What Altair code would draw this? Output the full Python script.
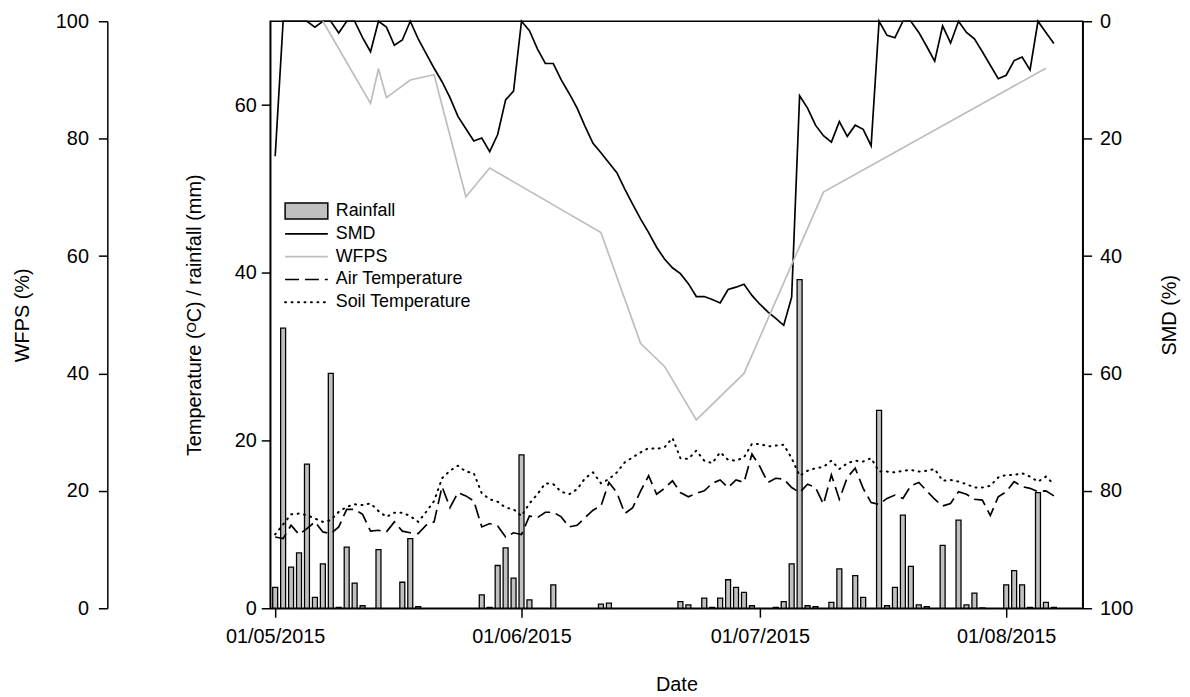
import altair as alt
import pandas as pd

# ---------------- data ----------------
start_date = "2015-05-01"

# daily rainfall (mm), day 0 = 01/05/2015
rain = [2.5, 33.4, 4.9, 6.6, 17.2, 1.3, 5.3, 28.0, 0.1, 7.3,
        3.0, 0.3, 0, 7.0, 0, 0, 3.1, 8.3, 0.2, 0,
        0, 0, 0, 0, 0, 0, 1.6, 0.1, 5.1, 7.2,
        3.6, 18.3, 1.0, 0, 0, 2.8, 0, 0, 0, 0,
        0, 0.5, 0.6, 0, 0, 0, 0, 0, 0, 0,
        0, 0.8, 0.4, 0, 1.2, 0.1, 1.2, 3.4, 2.5, 1.9,
        0.3, 0, 0, 0.1, 0.8, 5.3, 39.2, 0.3, 0.2, 0,
        0.7, 4.7, 0, 3.9, 1.3, 0, 23.6, 0.3, 2.5, 11.1,
        5.0, 0.4, 0.2, 0, 7.5, 0, 10.5, 0.4, 1.8, 0.05,
        0, 0, 2.8, 4.5, 2.8, 0.1, 13.8, 0.7, 0.1]

# soil moisture deficit (%)
smd = [23, 0, 0, 0, 0, 1.0, 0, 0, 2.0, 0,
       0, 2.8, 5.2, 0, 1.0, 4.1, 3.2, 0, 3.0, 5.5,
       8.0, 10.3, 13.0, 16.2, 18.3, 20.4, 19.9, 22.2, 19.3, 13.4,
       11.9, 0, 1.6, 4.7, 7.2, 7.2, 10.0, 12.3, 14.8, 17.9,
       20.8, 22.4, 24.1, 25.8, 28.6, 31.2, 33.7, 36.0, 38.5, 40.5,
       42.0, 43.0, 44.7, 46.9, 46.9, 47.4, 48.0, 45.7, 45.3, 44.8,
       46.7, 48.2, 49.5, 50.6, 51.8, 47.0, 12.7, 14.8, 17.7, 19.5,
       20.6, 17.1, 19.6, 17.7, 18.4, 21.2, 0, 2.4, 2.8, 0,
       0, 1.9, 4.3, 6.8, 0.8, 3.7, 0, 1.9, 3.0, 5.2,
       7.5, 9.8, 9.2, 6.7, 6.1, 8.3, 0, 1.9, 3.8]

# air temperature (deg C)
air = [8.5, 8.3, 9.9, 8.8, 9.5, 10.3, 9.1, 8.9, 9.7, 11.8,
       11.8, 11.2, 9.2, 9.3, 9.1, 10.3, 9.2, 9.0, 8.9, 9.9,
       10.3, 14.5, 12.0, 13.8, 13.4, 12.8, 9.7, 10.1, 9.8, 8.5,
       9.0, 8.8, 11.0, 10.8, 11.45, 11.45, 10.9, 9.7, 9.9, 10.8,
       11.7, 12.2, 15.0, 13.8, 11.3, 12.0, 14.0, 15.8, 13.6, 14.3,
       15.2, 13.8, 13.3, 13.7, 14.0, 14.9, 15.3, 14.4, 15.3, 15.0,
       18.4, 16.9, 15.0, 15.5, 15.4, 14.4, 13.8, 14.8, 14.4, 12.4,
       15.9, 13.0, 15.6, 16.7, 14.3, 12.6, 12.4, 13.1, 13.5, 13.1,
       14.6, 15.0, 14.0, 13.0, 12.2, 12.5, 13.9, 13.6, 13.0, 12.9,
       11.05, 13.3, 13.9, 15.1, 14.5, 14.3, 13.9, 14.0, 13.4]

# soil temperature (deg C)
soil = [8.8, 10.0, 11.2, 11.3, 11.1, 10.7, 10.3, 10.5, 11.5, 12.1,
        12.4, 12.3, 12.5, 11.6, 10.9, 11.4, 11.4, 11.0, 10.3, 11.5,
        12.8, 15.5, 16.4, 17.0, 16.3, 16.1, 13.7, 13.0, 12.7, 12.0,
        11.8, 11.0, 12.5, 13.6, 14.9, 14.8, 13.9, 13.6, 14.2, 15.5,
        16.2, 14.9, 15.4, 16.2, 17.4, 18.0, 18.6, 19.1, 19.0, 19.2,
        20.3, 17.9, 17.8, 18.8, 17.6, 17.3, 18.6, 17.7, 17.6, 18.0,
        19.6, 19.6, 19.3, 19.4, 19.5, 17.9, 15.8, 16.4, 16.7, 16.85,
        17.6, 16.6, 17.3, 17.6, 17.5, 17.9, 16.3, 16.3, 16.2, 16.4,
        16.5, 16.3, 16.4, 16.6, 15.2, 15.3, 15.1, 14.8, 14.4, 14.4,
        14.6, 15.6, 15.9, 15.9, 16.1, 15.7, 15.1, 15.7, 14.8]

# water filled pore space (%), sparse sampling days
wfps_day = [6, 12, 13, 14, 17, 20, 24, 27, 41, 46, 49, 53, 59, 69, 97]
wfps_val = [100, 86.0, 91.9, 87.0, 90.0, 90.9, 70.1, 75.0, 64.0, 45.1,
            41.2, 32.1, 40.0, 70.9, 92.0]

temp_ticks = [0, 20, 40, 60]
pct_ticks = [0, 20, 40, 60, 80, 100]
legend_labels = ["Rainfall", "SMD", "WFPS", "Air Temperature", "Soil Temperature"]

# ---------------- tables ----------------
t0 = pd.Timestamp(start_date)
def day_to_str(d):
    return (t0 + pd.Timedelta(days=d)).strftime("%Y-%m-%d")

daily = pd.DataFrame({
    "date": [day_to_str(d) for d in range(len(rain))],
    "rain": rain, "smd": smd, "air": air, "soil": soil,
})
rain_df = daily[daily["rain"] > 0]
wfps_df = pd.DataFrame({"date": [day_to_str(d) for d in wfps_day], "wfps": wfps_val})

# ---------------- scales & axes ----------------
xscale = alt.Scale(type="utc", domain=[
    alt.DateTime(year=2015, month=5, date=1, utc=True),
    alt.DateTime(year=2015, month=8, date=10, utc=True)])
xaxis = alt.Axis(
    values=[alt.DateTime(year=2015, month=m, date=1, utc=True) for m in (5, 6, 7, 8)],
    format="%d/%m/%Y", title="Date", tickSize=9, labelPadding=9, titlePadding=29)
X = alt.X("date:T", scale=xscale, axis=xaxis)

tscale = alt.Scale(domain=[0, 70], nice=False, zero=True)
taxis = alt.Axis(values=temp_ticks, title="Temperature (ᴼC) / rainfall (mm)",
                 tickSize=9, labelPadding=5, titlePadding=30)

bars = alt.Chart(rain_df).mark_bar(
    size=5, fill="#c0c0c0", stroke="black", strokeWidth=1.3, clip=True
).encode(x=X, y=alt.Y("rain:Q", scale=tscale, axis=taxis))

air_line = alt.Chart(daily).mark_line(
    color="black", strokeWidth=1.7, strokeDash=[14, 6]
).encode(x=X, y=alt.Y("air:Q", scale=tscale, axis=taxis))

soil_line = alt.Chart(daily).mark_line(
    color="black", strokeWidth=2, strokeDash=[1, 5.5], strokeCap="round"
).encode(x=X, y=alt.Y("soil:Q", scale=tscale, axis=taxis))

temp_layer = alt.layer(bars, air_line, soil_line)

smd_line = alt.Chart(daily).mark_line(color="black", strokeWidth=1.7).encode(
    x=X,
    y=alt.Y("smd:Q", scale=alt.Scale(domain=[0, 100], reverse=True, nice=False),
            axis=alt.Axis(orient="right", values=pct_ticks, title="SMD (%)",
                          tickSize=9, labelPadding=8, titlePadding=27,
                          titleAngle=270, titleBaseline="top")))

wfps_line = alt.Chart(wfps_df).mark_line(color="#bdbdbd", strokeWidth=1.7).encode(
    x=X,
    y=alt.Y("wfps:Q", scale=alt.Scale(domain=[0, 100], nice=False),
            axis=alt.Axis(orient="left", values=pct_ticks, title="WFPS (%)",
                          offset=164, tickSize=9, labelPadding=10, titlePadding=23)))

# ---------------- legend (drawn inside the plot area) ----------------
one = pd.DataFrame({"k": [0]})
row_y = [191, 214, 237, 260, 283]
lx0, lx1, tx = 15, 58, 66

leg = []
leg.append(alt.Chart(one).mark_rect(fill="#c0c0c0", stroke="black", strokeWidth=1.5).encode(
    x=alt.value(lx0), x2=alt.value(lx1), y=alt.value(row_y[0] - 8), y2=alt.value(row_y[0] + 8)))
leg.append(alt.Chart(one).mark_rule(color="black", strokeWidth=1.7).encode(
    x=alt.value(lx0), x2=alt.value(lx1), y=alt.value(row_y[1])))
leg.append(alt.Chart(one).mark_rule(color="#bdbdbd", strokeWidth=1.7).encode(
    x=alt.value(lx0), x2=alt.value(lx1), y=alt.value(row_y[2])))
leg.append(alt.Chart(one).mark_rule(color="black", strokeWidth=1.7, strokeDash=[14, 6]).encode(
    x=alt.value(lx0), x2=alt.value(lx1), y=alt.value(row_y[3])))
leg.append(alt.Chart(one).mark_rule(color="black", strokeWidth=2, strokeDash=[1, 5.5], strokeCap="round").encode(
    x=alt.value(lx0), x2=alt.value(lx1), y=alt.value(row_y[4])))
for lab, yy in zip(legend_labels, row_y):
    leg.append(alt.Chart(one).mark_text(
        align="left", baseline="middle", fontSize=18, color="black", font="Liberation Sans"
    ).encode(x=alt.value(tx), y=alt.value(yy), text=alt.value(lab)))

chart = alt.layer(temp_layer, smd_line, wfps_line, *leg).resolve_scale(
    y="independent"
).properties(
    width=818, height=591,
    autosize=alt.AutoSizeParams(type="none"),
    padding={"left": 264, "top": 11, "right": 100, "bottom": 87},
).configure(font="Liberation Sans").configure_view(
    stroke="black", strokeWidth=1.5
).configure_axis(
    grid=False, labelFontSize=20, titleFontSize=20, titleFontWeight="normal",
    labelColor="black", titleColor="black", tickColor="black", domainColor="black",
    tickWidth=1.5, domainWidth=1.5, labelFont="Liberation Sans", titleFont="Liberation Sans",
)

chart.save("out.html", embed_options={"renderer": "svg", "actions": False})
